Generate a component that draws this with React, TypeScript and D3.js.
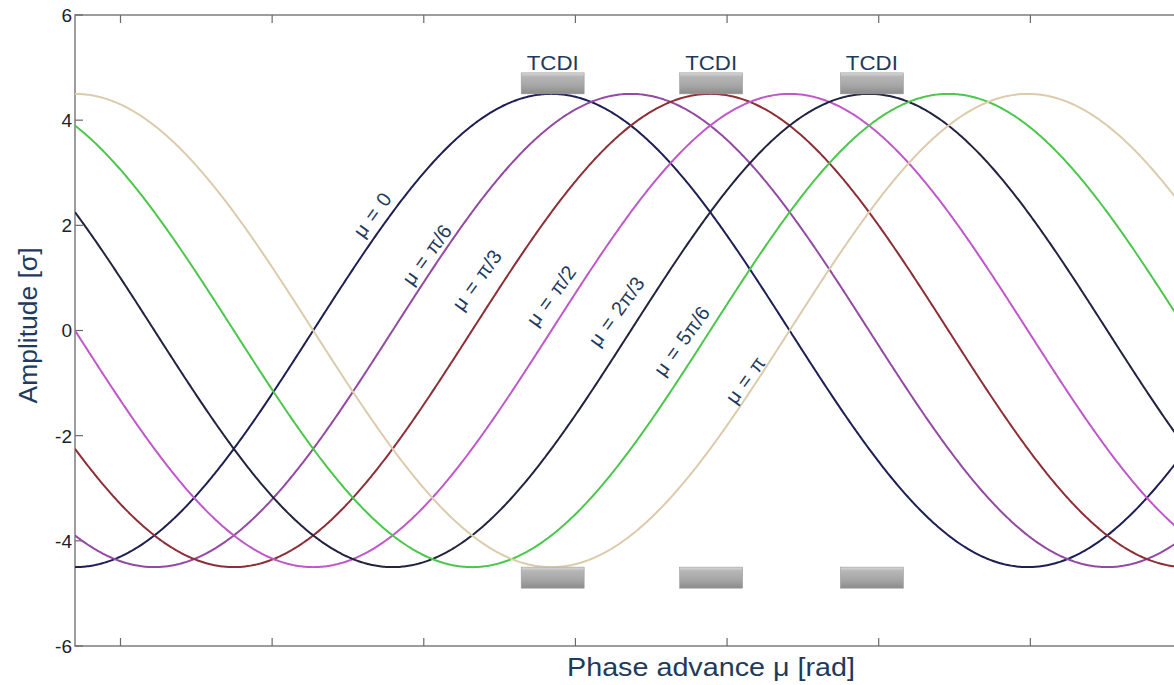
import React from 'react';
import * as d3 from 'd3';

// ---------- data ----------
const xTicks = [1, 2, 3, 4, 5, 6, 7];
const yTicks = [-6, -4, -2, 0, 2, 4, 6];
const xDomain = [0.7, 8.0];
const yDomain = [-6, 6];

const seriesLabels = ['μ = 0', 'μ = π/6', 'μ = π/3', 'μ = π/2', 'μ = 2π/3', 'μ = 5π/6', 'μ = π'];
const phaseSixths = [0, 1, 2, 3, 4, 5, 6]; // phase offset of each trajectory, in units of π/6
const amplitude = 4.5; // σ
const muAtMinimum = 0.7; // phase where the μ = 0 trajectory is at its minimum
const seriesColors = ['#1d1f55', '#934aa2', '#8c2f36', '#bf58c8', '#23233f', '#4cc64c', '#dccbac'];

// label anchors (phase, amplitude) for the μ annotations
const labelMu = [2.66, 3.02, 3.35, 3.84, 4.27, 4.70, 5.12];
const labelAmp = [2.2, 1.44, 0.96, 0.66, 0.36, -0.2, -0.94];

// TCDI collimator positions (phase) and their jaw extents (amplitude)
const tcdiMu = [3.85, 4.895, 5.955];
const tcdiWidth = 0.415;
const tcdiUpper = [4.5, 4.9];
const tcdiLower = [-4.9, -4.5];
const tcdiText = 'TCDI';

const xTitle = 'Phase advance μ [rad]';
const yTitle = 'Amplitude [σ]';

// ---------- layout ----------
const W = 1174;
const H = 685;
const M = { left: 75, top: 15, right: 1182, bottom: 646 };

export default function App() {
  const x = d3.scaleLinear().domain(xDomain).range([M.left, M.right]);
  const y = d3.scaleLinear().domain(yDomain).range([M.bottom, M.top]);

  const samples = d3.range(xDomain[0], xDomain[1] + 0.0001, 0.01);
  const line = d3
    .line<[number, number]>()
    .x((d) => x(d[0]))
    .y((d) => y(d[1]));

  const series = phaseSixths.map((k) =>
    samples.map((mu) => [mu, -amplitude * Math.cos(mu - muAtMinimum - (k * Math.PI) / 6)] as [number, number])
  );

  const axisColor = '#858585';
  const textNavy = '#1e3a5c';
  const tickLen = 8;

  return (
    <svg
      width={W}
      height={H}
      style={{ position: 'absolute', left: 0, top: 0, background: '#fff' }}
      fontFamily="Arial, 'Liberation Sans', sans-serif"
    >
      <defs>
        <clipPath id="plotClip">
          <rect x={M.left} y={M.top} width={M.right - M.left} height={M.bottom - M.top} />
        </clipPath>
        <linearGradient id="tcdiGrad" x1="0" y1="0" x2="0" y2="1">
          <stop offset="0%" stopColor="#dadada" />
          <stop offset="18%" stopColor="#b6b6b6" />
          <stop offset="60%" stopColor="#a6a6a6" />
          <stop offset="100%" stopColor="#8c8c8c" />
        </linearGradient>
      </defs>

      {/* axes box */}
      <rect
        x={M.left}
        y={M.top}
        width={M.right - M.left}
        height={M.bottom - M.top}
        fill="none"
        stroke={axisColor}
        strokeWidth={1.6}
      />

      {/* x ticks (top & bottom, inward) */}
      {xTicks.map((t) => (
        <g key={'xt' + t} stroke="#6a6a6a" strokeWidth={1.2}>
          <line x1={x(t)} x2={x(t)} y1={M.bottom} y2={M.bottom - tickLen} />
          <line x1={x(t)} x2={x(t)} y1={M.top} y2={M.top + tickLen} />
        </g>
      ))}

      {/* y ticks */}
      {yTicks.map((t) => (
        <g key={'yt' + t}>
          <line x1={M.left} x2={M.left + tickLen} y1={y(t)} y2={y(t)} stroke="#6a6a6a" strokeWidth={1.2} />
          <line x1={M.right} x2={M.right - tickLen} y1={y(t)} y2={y(t)} stroke="#6a6a6a" strokeWidth={1.2} />
          <text x={M.left - 3} y={y(t)} dy="0.36em" textAnchor="end" fontSize={19} fill="#222">
            {t}
          </text>
        </g>
      ))}

      {/* trajectories */}
      <g clipPath="url(#plotClip)">
        {series.map((s, i) => (
          <path key={'s' + i} d={line(s) || ''} fill="none" stroke={seriesColors[i]} strokeWidth={2} />
        ))}
      </g>

      {/* μ labels */}
      {seriesLabels.map((lab, i) => (
        <text
          key={'lab' + i}
          transform={`translate(${x(labelMu[i])},${y(labelAmp[i])}) rotate(-54)`}
          textAnchor="middle"
          dy="0.35em"
          fontSize={20}
          wordSpacing={2}
          fill={textNavy}
        >
          {lab}
        </text>
      ))}

      {/* TCDI collimators */}
      {tcdiMu.map((m, i) => (
        <g key={'tcdi' + i}>
          <rect
            x={x(m - tcdiWidth / 2)}
            y={y(tcdiUpper[1])}
            width={x(m + tcdiWidth / 2) - x(m - tcdiWidth / 2)}
            height={y(tcdiUpper[0]) - y(tcdiUpper[1])}
            fill="url(#tcdiGrad)"
            stroke="#9a9a9a"
            strokeWidth={0.6}
          />
          <rect
            x={x(m - tcdiWidth / 2)}
            y={y(tcdiLower[1])}
            width={x(m + tcdiWidth / 2) - x(m - tcdiWidth / 2)}
            height={y(tcdiLower[0]) - y(tcdiLower[1])}
            fill="url(#tcdiGrad)"
            stroke="#9a9a9a"
            strokeWidth={0.6}
          />
          <text
            x={x(m)}
            y={y(tcdiUpper[1]) - 3}
            textAnchor="middle"
            fontSize={21}
            textLength={52}
            lengthAdjust="spacingAndGlyphs"
            fill={textNavy}
          >
            {tcdiText}
          </text>
        </g>
      ))}

      {/* axis titles */}
      <text
        x={711}
        y={676}
        textAnchor="middle"
        fontSize={25}
        textLength={288}
        lengthAdjust="spacingAndGlyphs"
        fill={textNavy}
      >
        {xTitle}
      </text>
      <text
        transform={`translate(37,${(M.top + M.bottom) / 2 - 5}) rotate(-90)`}
        textAnchor="middle"
        fontSize={26}
        textLength={156}
        lengthAdjust="spacingAndGlyphs"
        fill={textNavy}
      >
        {yTitle}
      </text>
    </svg>
  );
}
